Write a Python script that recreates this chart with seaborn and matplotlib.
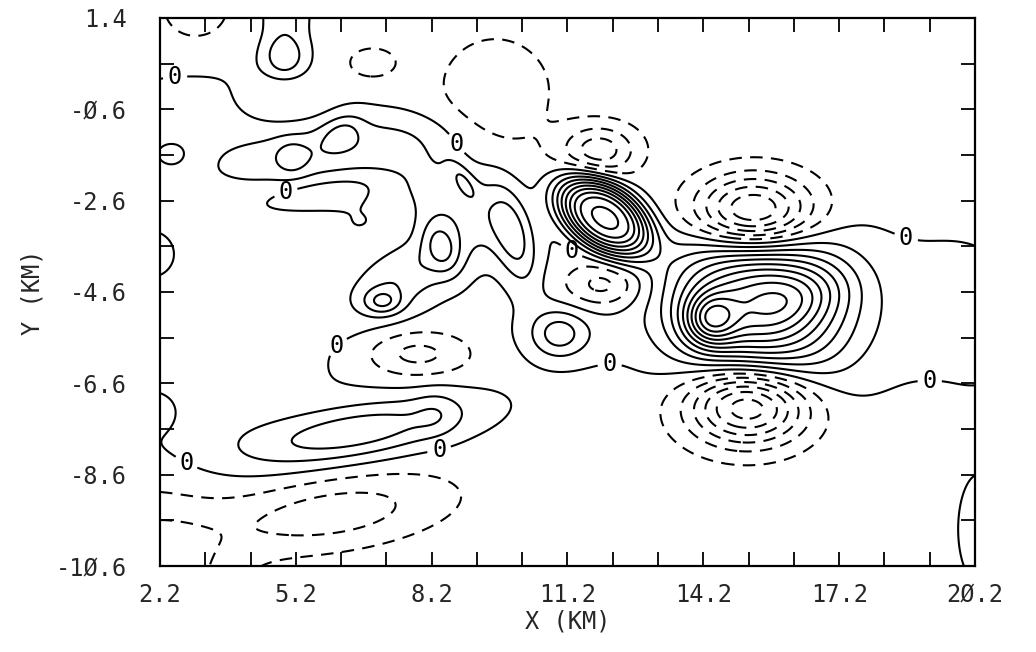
import numpy as np
import matplotlib
matplotlib.use("Agg")
import matplotlib.pyplot as plt
import seaborn as sns

# field: centre x/y (km), amplitude, widths (km), tilt (deg), shape power
blob_x = [12.0, 14.35, 16.3, 15.4, 15.3, 15.2, 11.9, 12.0,
          6.0, 5.11, 6.22, 8.7, 8.89, 10.0, 8.42, 7.6, 7.12, 11.0, 11.2,
          6.6, 8.3, 3.5, 2.55, 2.1, 2.1, 20.3, 20.3, 19.8, 3.0, 3.5, 5.6,
          3.0, 4.95, 4.95, 9.6, 6.88, 4.8, 7.87, 5.95, 2.0]
blob_y = [-2.95, -5.2, -4.7, -4.85, -2.9, -7.05, -1.5, -4.45,
          -1.5, -1.66, -1.09, -2.6, -2.14, -3.4, -3.62, -4.2, -4.82, -5.52, -5.5,
          -7.65, -7.25, -7.6, -1.6, -3.8, -7.25, -5.9, -9.8, -5.0, -0.6, -4.5, -2.45,
          1.6, 0.55, 1.6, -0.28, 0.42, -0.4, -5.96, -9.45, -10.8]
blob_amp = [9.5, 5.0, 2.0, 8.5, -7.5, -7.5, -3.2, -2.2,
            1.7, 1.3, 1.4, 1.9, 1.3, 2.3, 2.3, 2.1, 2.2, 2.0, 1.0,
            2.9, 0.8, 0.3, -0.7, -0.8, -0.7, 0.7, 0.8, 0.75, 0.7, 1.0, -0.9,
            -1.0, 2.0, 1.2, -1.5, -1.4, -1.0, -2.0, -2.3, -2.6]
blob_sx = [0.9, 0.4, 0.8, 1.35, 0.95, 0.95, 0.6, 0.6,
           1.9, 0.25, 0.35, 1.2, 0.35, 0.3, 0.28, 1.0, 0.3, 0.4, 0.8,
           1.7, 0.35, 1.2, 0.33, 0.4, 0.35, 0.35, 0.4, 1.2, 1.0, 2.2, 0.9,
           0.8, 0.3, 0.35, 0.9, 0.4, 0.7, 0.8, 1.8, 1.2]
blob_sy = [0.55, 0.4, 0.45, 1.2, 0.6, 0.62, 0.4, 0.35,
           0.45, 0.25, 0.25, 0.6, 0.15, 0.8, 0.45, 0.5, 0.2, 0.35, 0.5,
           0.42, 0.35, 0.5, 0.28, 0.4, 0.3, 0.35, 1.0, 1.3, 0.6, 2.8, 0.2,
           0.8, 0.3, 0.6, 0.9, 0.25, 0.35, 0.35, 0.55, 1.2]
blob_ang = [-35, 0, 15, -15, 0, 0, 0, 0,
            8, 0, 30, -30, -55, 15, 20, 30, 0, 0, 0,
            10, 0, 0, 0, 0, 0, 0, 0, 0, 0, 0, 10,
            0, 0, 0, 0, 0, 0, 0, 8, 0]
blob_pow = [3, 2, 2, 2, 2, 2, 2, 2,
            2, 2, 2, 2, 2, 2, 2, 2, 2, 2, 2,
            2, 2, 2, 2, 2, 2, 2, 2, 2, 2, 2, 2,
            2, 2, 2, 2, 2, 2, 2, 2, 2]
background = -0.4

neg_levels = [-7, -6, -5, -4, -3, -2, -1]
pos_levels = [0, 1, 2, 3, 4, 5, 6, 7, 8, 9, 10, 11, 12]

xticks = [2.2, 5.2, 8.2, 11.2, 14.2, 17.2, 20.2]
xticklabels = ["2.2", "5.2", "8.2", "11.2", "14.2", "17.2", "2Ø.2"]
yticks = [-10.6, -8.6, -6.6, -4.6, -2.6, -0.6, 1.4]
yticklabels = ["-1Ø.6", "-8.6", "-6.6", "-4.6", "-2.6", "-Ø.6", "1.4"]

# where the "0" labels sit on the zero line
zero_label_pts = [(2.53, 0.16), (4.96, -2.36), (8.78, -1.33), (11.36, -3.56),
                  (6.17, -5.85), (2.86, -8.19), (8.31, -7.81), (12.13, -6.11),
                  (18.65, -3.51), (19.2, -6.61)]

sns.set_style("ticks")
plt.rcParams["font.family"] = ["DejaVu Sans Mono", "DejaVu Sans"]

gx = np.linspace(2.2, 20.2, 450)
gy = np.linspace(-10.6, 1.4, 320)
X, Y = np.meshgrid(gx, gy)
Z = np.full_like(X, background)
for x0, y0, a, sx, sy, ang, p in zip(blob_x, blob_y, blob_amp, blob_sx,
                                     blob_sy, blob_ang, blob_pow):
    t = np.deg2rad(ang)
    u = (X - x0) * np.cos(t) + (Y - y0) * np.sin(t)
    v = -(X - x0) * np.sin(t) + (Y - y0) * np.cos(t)
    r2 = (u / sx) ** 2 + (v / sy) ** 2
    Z += a * np.exp(-0.5 * r2 ** (p / 2))

fig = plt.figure(figsize=(10.36, 6.52), dpi=100)
ax = fig.add_axes([0.1544, 0.132, 0.7867, 0.8405])

ax.contour(X, Y, Z, levels=neg_levels, colors="k", linewidths=1.5,
           linestyles=[(0, (6, 4))])
cs = ax.contour(X, Y, Z, levels=pos_levels, colors="k", linewidths=1.5,
                linestyles="solid")
labs = ax.clabel(cs, levels=[0], fmt={0: "0"}, inline=True, fontsize=17,
                 manual=zero_label_pts)
for t in labs:
    t.set_rotation(0)

ax.set_xlim(2.2, 20.2)
ax.set_ylim(-10.6, 1.4)
ax.set_xticks(xticks)
ax.set_xticklabels(xticklabels)
ax.set_yticks(yticks)
ax.set_yticklabels(yticklabels)
ax.set_xticks(np.arange(2.2, 20.3, 1.0), minor=True)
ax.set_yticks(np.arange(-10.6, 1.5, 1.0), minor=True)
ax.tick_params(which="both", direction="in", top=True, right=True,
               length=10, width=1.3, color="k")
ax.tick_params(axis="x", which="major", pad=12, labelsize=17)
ax.tick_params(axis="y", which="major", pad=24, labelsize=17)
for s in ax.spines.values():
    s.set_linewidth(1.6)
    s.set_color("k")

ax.set_xlabel("X (KM)", fontsize=17, labelpad=2)
ax.set_ylabel("Y (KM)", fontsize=17, labelpad=8)

fig.savefig("out.png", dpi=100)
